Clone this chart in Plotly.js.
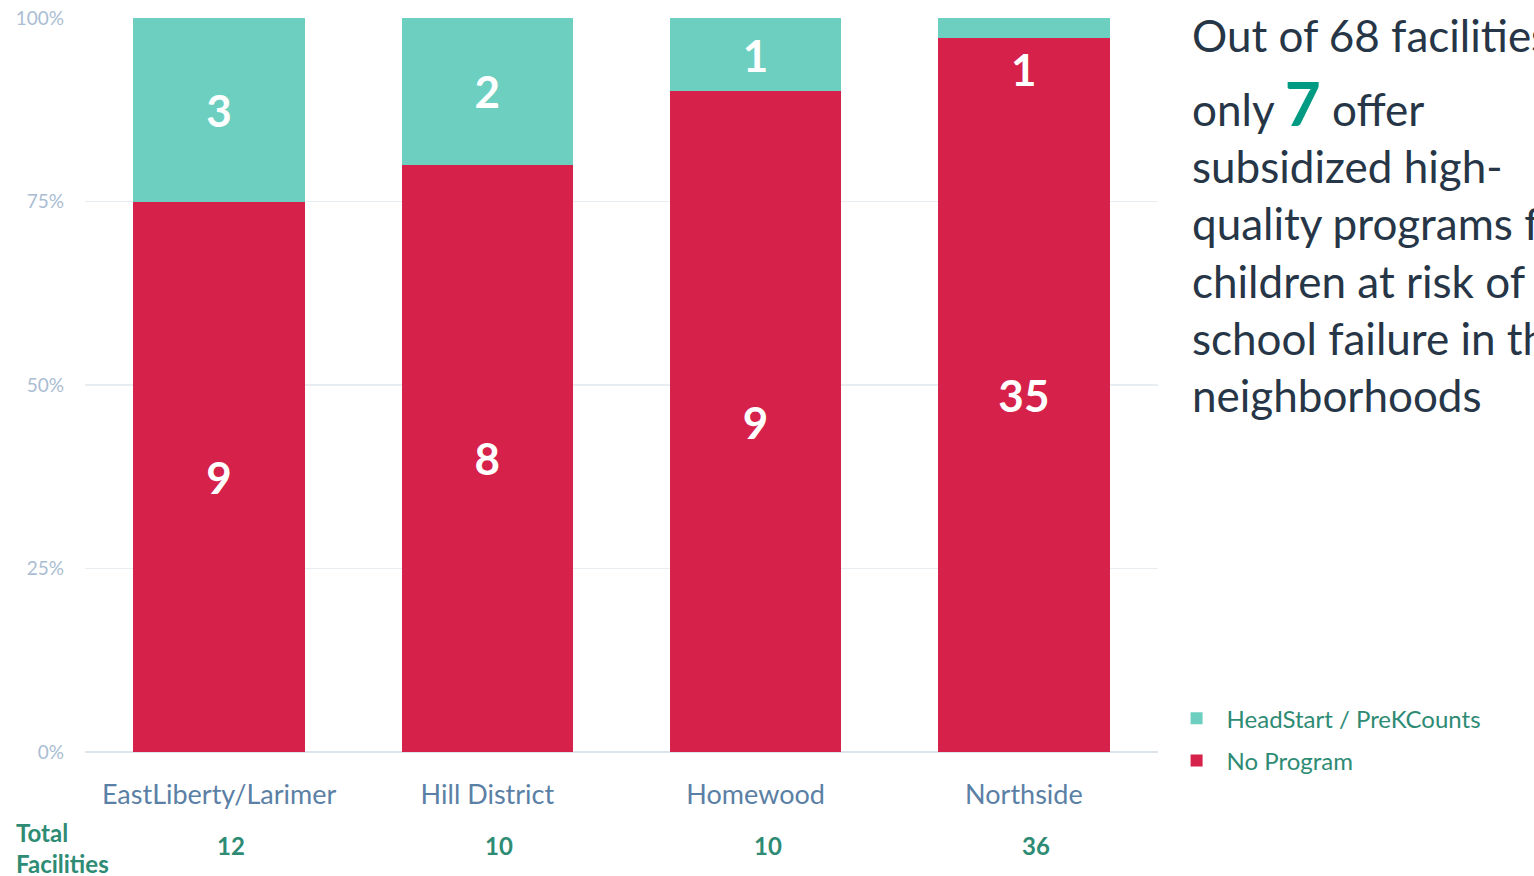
<!DOCTYPE html>
<html>
<head>
<meta charset="utf-8">
<script src="https://cdn.plot.ly/plotly-3.0.1.min.js"></script>
<style>
html,body{margin:0;padding:0;background:#fff;overflow:hidden;}
#chart{width:1534px;height:876px;}
</style>
</head>
<body>
<div id="chart"></div>
<script>
const neighborhoods = ["EastLiberty/Larimer", "Hill District", "Homewood", "Northside"];
const noProgram = [9, 8, 9, 35];
const headStart = [3, 2, 1, 1];
const yTickVals = [0, 25, 50, 75, 100];
const yTickText = ["0%", "25%", "50%", "75%", "100%"];

const FONT = "Lato, 'Open Sans', sans-serif";
const RED = "#d6214a";
const TEAL = "#6dcfbf";
const GREEN = "#2e8b74";

const totals = neighborhoods.map((_, i) => noProgram[i] + headStart[i]);
const small = (v, i) => v / totals[i] < 0.05;
const textNo = noProgram.map((v, i) => small(v, i) ? "" : String(v));
const textHs = headStart.map((v, i) => small(v, i) ? "" : String(v));

const barCommon = {
  type: "bar",
  x: neighborhoods,
  textposition: "inside",
  insidetextanchor: "middle",
  textangle: 0,
  constraintext: "none",
  textfont: {family: FONT, size: 44, color: "#ffffff", weight: 700},
  hoverinfo: "name+y"
};

const traces = [
  Object.assign({}, barCommon, {name: "No Program", legendgroup: "np", legendrank: 2, y: noProgram, text: textNo, marker: {color: RED, line: {width: 0}}}),
  Object.assign({}, barCommon, {name: "HeadStart / PreKCounts", legendgroup: "hs", legendrank: 1, y: headStart, text: textHs, marker: {color: TEAL, line: {width: 0}}})
];

const annotations = [];
// labels for segments too thin to hold their number
neighborhoods.forEach((n, i) => {
  if (small(headStart[i], i)) {
    annotations.push({x: n, y: 100, xref: "x", yref: "y", yanchor: "top", yshift: -23,
      text: "<b>" + headStart[i] + "</b>", showarrow: false,
      font: {family: FONT, size: 44, color: "#ffffff"}});
  }
});
// totals row
neighborhoods.forEach((n, i) => {
  annotations.push({x: n, y: -0.127, xref: "x", yref: "paper", yanchor: "middle", xshift: 12,
    text: "<b>" + totals[i] + "</b>", showarrow: false,
    font: {family: FONT, size: 24, color: GREEN}});
});
annotations.push({x: -0.066, y: -0.131, xref: "paper", yref: "paper", xanchor: "left", yanchor: "middle",
  align: "left", text: "<b>Total<br>Facilities</b>", showarrow: false,
  font: {family: FONT, size: 24, color: GREEN}});
const totalAll = totals.reduce((a, b) => a + b, 0);
const totalHs = headStart.reduce((a, b) => a + b, 0);
annotations.push({x: 1.03, y: 1.0, xref: "paper", yref: "paper", xanchor: "left", yanchor: "middle", yshift: -17,
  align: "left", showarrow: false,
  text: "Out of " + totalAll + " facilities,",
  font: {family: FONT, size: 44, color: "#263647"}});
annotations.push({x: 1.03, y: 1.0, xref: "paper", yref: "paper", xanchor: "left", yanchor: "top", yshift: -45,
  align: "left", showarrow: false,
  text: "only <span style='font-size:62px;font-weight:bold;color:#009b82'>" + totalHs +
    "</span> offer<br>subsidized high-<br>quality programs for<br>children at risk of<br>school failure in these<br>neighborhoods",
  font: {family: FONT, size: 44, color: "#263647"}});

const layout = {
  width: 1534, height: 876,
  margin: {l: 85, r: 376, t: 18, b: 124},
  paper_bgcolor: "#ffffff", plot_bgcolor: "#ffffff",
  barmode: "stack", barnorm: "percent", bargap: 0.36,
  font: {family: FONT},
  showlegend: true,
  legend: {x: 1.008, y: 0.076, xanchor: "left", yanchor: "top", traceorder: "grouped",
    font: {family: FONT, size: 24, color: GREEN}, itemwidth: 50, tracegroupgap: 8, bgcolor: "rgba(0,0,0,0)"},
  xaxis: {
    type: "category", showgrid: false, showline: false, zeroline: false, ticks: "",
    tickfont: {family: FONT, size: 27, color: "#5b80a5"}, ticklabelstandoff: 24
  },
  yaxis: {
    range: [0, 100], tickvals: yTickVals, ticktext: yTickText, showgrid: true, gridcolor: "#e8edf2", gridwidth: 1.5,
    zeroline: true, zerolinecolor: "#dde4ec", zerolinewidth: 1.5, showline: false, ticks: "",
    tickfont: {family: FONT, size: 19, color: "#aabdd3"}, ticklabelstandoff: 20, fixedrange: true
  },
  annotations: annotations
};

Plotly.newPlot("chart", traces, layout, {displayModeBar: false, staticPlot: true});
</script>
</body>
</html>
